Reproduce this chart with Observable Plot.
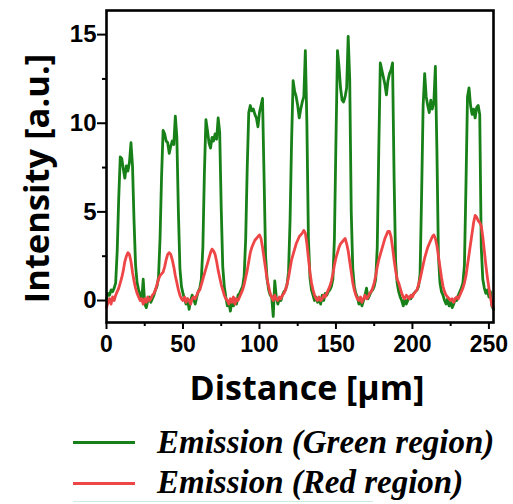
<!DOCTYPE html>
<html>
<head>
<meta charset="utf-8">
<script src="https://cdn.jsdelivr.net/npm/d3@7"></script>
<script src="https://cdn.jsdelivr.net/npm/@observablehq/plot@0.6"></script>
<style>
  html, body { margin: 0; padding: 0; background: #fff; }
  body { width: 513px; height: 504px; position: relative; overflow: hidden; }
  #chart { position: absolute; left: 0; top: 0; }
  .leg { position: absolute; left: 0; width: 513px; height: 40px; line-height: 40px;
         font-family: "Liberation Serif", "Times New Roman", serif; font-weight: bold; font-style: italic;
         font-size: 33px; color: #000; white-space: nowrap; }
  .leg .sw { position: absolute; left: 73px; width: 62px; height: 3px; }
  .leg .lbl { position: absolute; left: 157px; top: 0; }
  #rule { position: absolute; left: 73px; top: 501px; width: 300px; height: 1px; background: #cdeede; }
</style>
</head>
<body>
<div id="chart"></div>
<div class="leg" id="legG"><span class="sw"></span><span class="lbl"></span></div>
<div class="leg" id="legR"><span class="sw"></span><span class="lbl"></span></div>
<div id="rule"></div>
<script>
// ---- data ----
const distanceStep = 1; // µm between samples, starting at 0
const greenIntensity = [
  0.1, 0.4, 0.3, 0.6, 0.5, 0.7, 1.0, 2.8, 5.8, 8.1,
  8.0, 7.4, 6.9, 7.6, 7.3, 7.8, 8.9, 7.6, 4.5, 2.0,
  1.0, 0.6, 0.3, 0.0, 1.2, -0.2, -0.4, 0.0, 0.2, -0.1,
  0.1, 0.3, 0.6, 0.8, 1.3, 3.5, 7.0, 9.6, 9.4, 9.0,
  8.9, 8.3, 8.7, 9.0, 8.8, 10.4, 9.2, 5.0, 1.8, 0.8,
  0.4, 0.1, -0.2, 0.1, -0.5, 0.0, 0.3, 0.1, -0.2, 0.2,
  0.5, 0.7, 1.2, 3.0, 7.2, 10.2, 9.6, 8.9, 8.6, 9.2,
  9.0, 9.4, 9.1, 10.3, 9.5, 5.2, 1.9, 0.8, 0.2, -0.3,
  -0.1, -0.6, 0.0, -0.3, 0.1, -0.2, 0.3, 0.4, 0.6, 0.8,
  1.4, 3.5, 7.5, 10.6, 11.0, 10.7, 10.8, 10.5, 10.3, 9.8,
  10.6, 11.0, 11.4, 7.0, 2.5, 1.2, 0.6, 0.3, 0.2, -0.9,
  1.1, 0.2, -0.2, 0.1, 0.0, 0.3, 0.5, 0.6, 0.9, 1.6,
  4.5, 9.0, 12.4, 11.8, 11.5, 11.0, 10.3, 10.8, 11.2, 11.5,
  14.1, 10.0, 3.5, 1.3, 0.6, 0.3, 0.0, 0.2, -0.1, 0.1,
  -0.2, 0.3, 0.0, 0.4, 0.3, 0.5, 0.6, 0.8, 1.2, 3.5,
  9.0, 14.1, 13.2, 12.0, 11.3, 11.2, 11.5, 12.0, 14.9, 12.5,
  5.0, 1.8, 0.8, 0.4, 0.2, -0.2, 0.1, -0.3, 0.0, 0.3,
  0.7, 0.1, 0.3, 0.5, 0.6, 0.8, 1.2, 3.0, 8.5, 13.4,
  13.0, 12.6, 12.2, 11.6, 12.4, 12.8, 13.0, 13.4, 7.0, 2.2,
  1.0, 0.5, 0.2, 0.0, -0.3, 0.1, -0.2, 0.0, 0.2, 0.1,
  0.3, 0.4, 0.5, 0.6, 0.8, 1.5, 6.0, 11.0, 12.8, 11.5,
  11.0, 10.6, 11.3, 10.8, 11.2, 13.2, 8.5, 2.5, 1.0, 0.5,
  0.3, 0.0, -0.2, 0.1, -0.3, -0.1, -0.4, -0.2, 0.1, 0.0,
  0.3, 0.5, 0.7, 1.0, 2.0, 6.5, 11.5, 12.0, 11.0, 10.5,
  10.8, 10.3, 10.9, 11.0, 10.5, 3.0, 1.2, 0.7, 0.4, 0.6,
  0.2, 0.5, -0.3, -0.5
];
const redIntensity = [
  -0.4, -0.1, 0.1, -0.2, 0.2, 0.0, 0.3, 0.5, 0.7, 1.0,
  1.3, 1.7, 2.2, 2.5, 2.7, 2.6, 2.2, 1.6, 1.1, 0.7,
  0.4, 0.2, 0.0, 0.1, -0.2, 0.1, -0.1, 0.2, 0.0, 0.1,
  0.3, 0.4, 0.6, 0.9, 1.2, 1.4, 1.5, 1.6, 1.9, 2.3,
  2.6, 2.7, 2.6, 2.3, 1.9, 1.4, 1.0, 0.6, 0.3, 0.1,
  0.0, 0.2, -0.1, 0.1, 0.0, -0.2, 0.1, 0.2, 0.1, 0.3,
  0.5, 0.6, 0.9, 1.2, 1.5, 1.8, 2.1, 2.4, 2.7, 2.9,
  2.8, 2.6, 2.2, 1.7, 1.3, 0.9, 0.6, 0.3, 0.1, 0.0,
  -0.2, 0.1, -0.1, 0.2, -0.2, 0.1, 0.0, 0.2, 0.4, 0.6,
  0.9, 1.3, 1.7, 2.2, 2.7, 3.0, 3.2, 3.4, 3.5, 3.6,
  3.7, 3.5, 3.0, 2.4, 1.8, 1.2, 0.8, 0.4, 0.2, 0.0,
  0.3, 0.1, 0.0, 0.2, 0.1, 0.3, 0.4, 0.6, 0.9, 1.3,
  1.8, 2.3, 2.6, 2.9, 3.2, 3.4, 3.6, 3.7, 3.8, 3.95,
  3.8, 3.2, 2.4, 1.6, 1.0, 0.6, 0.3, 0.1, 0.0, 0.2,
  0.0, 0.1, 0.3, 0.2, 0.4, 0.6, 0.8, 1.1, 1.5, 2.0,
  2.4, 2.7, 3.0, 3.2, 3.3, 3.4, 3.5, 3.2, 2.8, 2.2,
  1.6, 1.0, 0.6, 0.3, 0.1, 0.0, 0.2, -0.1, 0.1, 0.3,
  0.1, 0.2, 0.4, 0.5, 0.7, 1.0, 1.4, 1.9, 2.3, 2.6,
  2.9, 3.2, 3.5, 3.7, 3.9, 3.9, 3.6, 3.0, 2.3, 1.7,
  1.2, 1.0, 0.7, 0.4, 0.2, 0.1, 0.3, 0.2, 0.1, 0.3,
  0.2, 0.4, 0.5, 0.6, 0.9, 1.2, 1.6, 2.0, 2.4, 2.7,
  3.0, 3.2, 3.4, 3.6, 3.7, 3.5, 3.1, 2.5, 1.9, 1.3,
  0.8, 0.5, 0.3, 0.2, 0.1, 0.0, 0.1, -0.1, 0.1, 0.2,
  0.1, 0.3, 0.5, 0.7, 1.0, 1.4, 2.0, 2.6, 3.2, 3.8,
  4.4, 4.8, 4.7, 4.5, 4.4, 4.2, 3.6, 2.8, 2.0, 1.3,
  0.7, 0.2, -0.3, -0.4
];
const xTicks = [0, 50, 100, 150, 200, 250];
const xMinorTicks = [25, 75, 125, 175, 225];
const yTicks = [0, 5, 10, 15];
const yMinorTicks = [2.5, 7.5, 12.5];
const xLabel = "Distance [µm]";
const yLabel = "Intensity [a.u.]";
const seriesNames = ["Emission (Green region)", "Emission (Red region)"];
const seriesColors = ["#188018", "#ee4646"];

// ---- build tables ----
const green = greenIntensity.map((v, i) => ({distance: i * distanceStep, intensity: v}));
const red = redIntensity.map((v, i) => ({distance: i * distanceStep, intensity: v}));

const tickFont = "'Liberation Sans', Arial, sans-serif";
const labelFont = "'Open Sans', 'Liberation Sans', sans-serif";

const chart = Plot.plot({
  width: 513,
  height: 410,
  marginLeft: 106,
  marginRight: 20,
  marginTop: 10,
  marginBottom: 88,
  style: {background: "transparent", overflow: "visible"},
  x: {domain: [0, 253]},
  y: {domain: [-1.24, 16.36]},
  marks: [
    Plot.lineY(green, {x: "distance", y: "intensity", stroke: seriesColors[0], strokeWidth: 2.8, strokeLinejoin: "round"}),
    Plot.lineY(red, {x: "distance", y: "intensity", stroke: seriesColors[1], strokeWidth: 2.8, strokeLinejoin: "round"}),
    Plot.axisX({ticks: xTicks, tickSize: 7, tickPadding: 6, strokeWidth: 2, label: null,
                fontSize: 23, fontWeight: "bold", fontFamily: tickFont}),
    Plot.axisX({ticks: xMinorTicks, tickSize: 4, strokeWidth: 2, label: null, tickFormat: () => ""}),
    Plot.axisY({ticks: yTicks, tickSize: 9, tickPadding: 1, strokeWidth: 2, label: null,
                fontSize: 24, fontWeight: "bold", fontFamily: tickFont}),
    Plot.axisY({ticks: yMinorTicks, tickSize: 4, strokeWidth: 2, label: null, tickFormat: () => ""}),
    Plot.frame({stroke: "black", strokeWidth: 2.6}),
    Plot.text([xLabel], {frameAnchor: "bottom", dx: 7, dy: 67, lineAnchor: "middle",
                         fontSize: 34, fontWeight: "bold", fontFamily: labelFont, fill: "black"}),
    Plot.text([yLabel], {frameAnchor: "left", dx: -69, dy: 12, rotate: -90, textAnchor: "middle", lineAnchor: "middle",
                         fontSize: 34.5, fontWeight: "bold", fontFamily: labelFont, fill: "black"})
  ]
});
document.getElementById("chart").appendChild(chart);

// legend
const legIds = ["legG", "legR"];
const legTops = [422, 462];
legIds.forEach((id, i) => {
  const el = document.getElementById(id);
  el.style.top = legTops[i] + "px";
  const sw = el.querySelector(".sw");
  sw.style.background = seriesColors[i];
  sw.style.top = (i === 0 ? 19 : 20) + "px";
  el.querySelector(".lbl").textContent = seriesNames[i];
});
</script>
</body>
</html>
